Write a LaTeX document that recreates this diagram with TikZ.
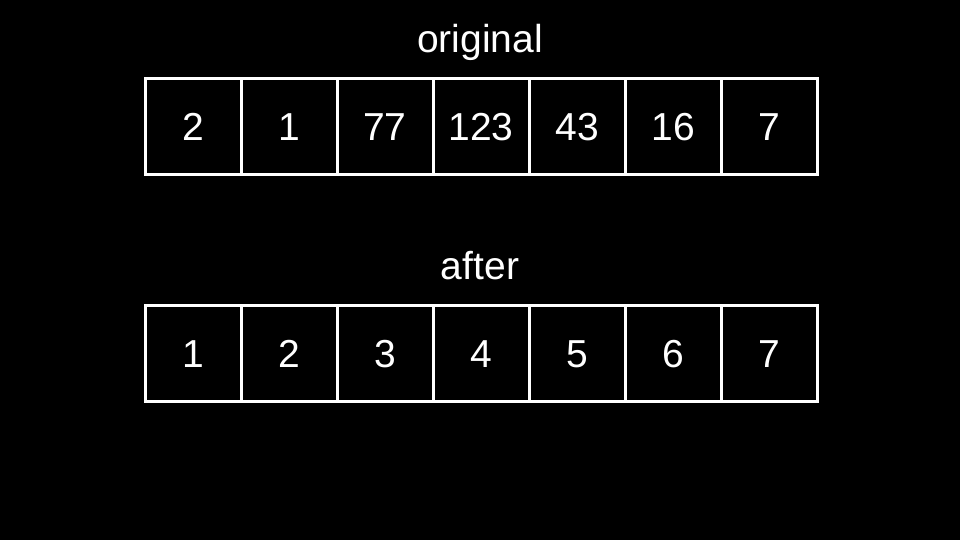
\documentclass[tikz,border=0pt]{standalone}
\usepackage{fontspec}
\setmainfont{Liberation Sans}
\begin{document}
\begin{tikzpicture}[x=1pt,y=1pt,
  cell/.style={draw=white,line width=3pt,minimum width=96pt,minimum height=96pt,inner sep=0pt,text=white,text height=28pt,text depth=0pt,font=\fontsize{39}{41}\selectfont},
  title/.style={text=white,inner sep=0pt,anchor=base,font=\fontsize{39}{41}\selectfont}]
\fill[black] (0,0) rectangle (960,-540);
\useasboundingbox (0,0) rectangle (960,-540);
\node[title] (t1) at (480,-53) {original};
\node[title] (t2) at (480,-279) {after};
\foreach \v [count=\i from 0] in {2,1,77,123,43,16,7} {
  \node[cell] (a\i) at (193+96*\i,-127) {\v};
}
\foreach \v [count=\i from 0] in {1,2,3,4,5,6,7} {
  \node[cell] (b\i) at (193+96*\i,-353) {\v};
}
\end{tikzpicture}
\end{document}
